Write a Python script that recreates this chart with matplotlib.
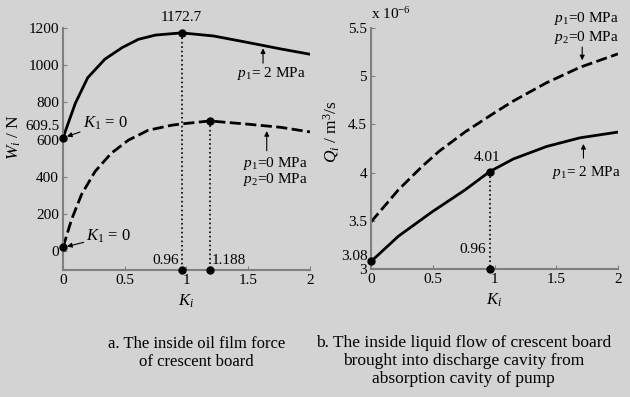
import numpy as np
import matplotlib
matplotlib.use('Agg')
import matplotlib.pyplot as plt

plt.rcParams['font.family'] = ['Liberation Serif', 'DejaVu Serif']
plt.rcParams['mathtext.fontset'] = 'custom'
plt.rcParams['mathtext.rm'] = 'Liberation Serif'
plt.rcParams['mathtext.it'] = 'Liberation Serif:italic'

# panel a: oil film force W_i (N) vs K_i
k_a_p2 = [0, 0.1, 0.2, 0.34, 0.48, 0.61, 0.75, 0.96, 1.22, 1.49, 1.76, 2.0]
w_p2 = [609.5, 795, 932, 1032, 1094, 1138, 1161, 1172.7, 1156, 1122, 1087, 1058]
k_a_p0 = [0, 0.07, 0.15, 0.26, 0.39, 0.53, 0.69, 0.88, 0.96, 1.188, 1.49, 1.76, 2.0]
w_p0 = [21, 172, 305, 429, 526, 597, 650, 677, 684, 700, 683, 666, 641]

# panel b: liquid flow Q_i (x1e-6 m^3/s) vs K_i
k_b_p2 = [0, 0.22, 0.49, 0.76, 0.96, 1.15, 1.42, 1.69, 2.0]
q_p2 = [3.08, 3.34, 3.59, 3.82, 4.01, 4.14, 4.27, 4.36, 4.42]
k_b_p0 = [0, 0.22, 0.41, 0.55, 0.76, 1.0, 1.15, 1.42, 1.69, 2.0]
q_p0 = [3.49, 3.82, 4.06, 4.22, 4.42, 4.62, 4.74, 4.93, 5.09, 5.23]

bg = '#d3d3d3'
axcol = '#7f7f7f'
fs = 11

fig = plt.figure(figsize=(6.3, 3.97), dpi=100, facecolor=bg)
ax1 = fig.add_axes([0.1, 0.32, 0.392, 0.61])
ax2 = fig.add_axes([0.589, 0.322, 0.392, 0.608])

for ax in (ax1, ax2):
    ax.set_facecolor(bg)
    for s in ('top', 'right'):
        ax.spines[s].set_visible(False)
    for s in ('left', 'bottom'):
        ax.spines[s].set_color(axcol)
        ax.spines[s].set_linewidth(1.5)
    ax.tick_params(direction='in', length=3, color=axcol, labelsize=fs, pad=3)
    ax.set_xlim(0, 2)
    ax.set_xticks([0, 0.5, 1, 1.5, 2])
    ax.set_xticklabels(['0', '0.5', '1', '1.5', '2'])
    ax.set_xlabel('$K_i$', fontsize=12, labelpad=4)

# ---- panel a
ax1.set_ylim(-100, 1200)
ax1.set_yticks([0, 200, 400, 600, 800, 1000, 1200])
ax1.plot(k_a_p2, w_p2, color='black', lw=2)
ax1.plot(k_a_p0, w_p0, color='black', lw=2, dashes=(4, 1.6))
ax1.set_ylabel('$W_i$ / N', fontsize=12.5)
ax1.yaxis.set_label_coords(-0.16, 0.55)

ka_max1 = k_a_p2[w_p2.index(max(w_p2))]
ka_max2 = k_a_p0[w_p0.index(max(w_p0))]
ax1.plot([ka_max1, ka_max1], [max(w_p2), -100], ls=':', color='black', lw=1.2)
ax1.plot([ka_max2, ka_max2], [max(w_p0), -100], ls=':', color='black', lw=1.2)
ax1.plot([ka_max1, ka_max2, 0, 0], [max(w_p2), max(w_p0), w_p2[0], w_p0[0]],
         'o', color='black', ms=5, clip_on=False, zorder=5)
ax1.plot([ka_max1, ka_max2], [-100, -100], 'o', color='black', ms=5,
         clip_on=False, zorder=5)
ax1.text(ka_max1, 1220, '1172.7', ha='center', va='bottom', fontsize=fs)
ax1.text(ka_max1 - 0.02, -85, '0.96', ha='right', va='bottom', fontsize=fs)
ax1.text(ka_max2 + 0.02, -85, '1.188', ha='left', va='bottom', fontsize=fs)
ax1.text(-0.03, 672, '609.5', ha='right', va='center', fontsize=fs)

arw = dict(arrowstyle='-|>', color='black', lw=0.8, mutation_scale=7,
           shrinkA=0, shrinkB=3)
ax1.annotate('$K_1$ = 0', xy=(0, w_p2[0]), xytext=(0.16, 686), fontsize=12,
             va='center', ha='left', arrowprops=arw)
ax1.annotate('$K_1$ = 0', xy=(0, w_p0[0]), xytext=(0.19, 81), fontsize=12,
             va='center', ha='left', arrowprops=arw)
ax1.annotate('', xy=(1.62, 1112), xytext=(1.62, 1010), arrowprops=arw)
ax1.text(1.69, 954, '$p_1$= 2 MPa', ha='center', va='center', fontsize=fs)
ax1.annotate('', xy=(1.65, 668), xytext=(1.65, 540), arrowprops=arw)
ax1.text(1.72, 474, '$p_1$=0 MPa', ha='center', va='center', fontsize=fs)
ax1.text(1.72, 384, '$p_2$=0 MPa', ha='center', va='center', fontsize=fs)

# ---- panel b
ax2.set_ylim(3, 5.5)
ax2.set_yticks([3, 3.5, 4, 4.5, 5, 5.5])
ax2.set_yticklabels(['3', '3.5', '4', '4.5', '5', '5.5'])
ax2.plot(k_b_p2, q_p2, color='black', lw=2)
ax2.plot(k_b_p0, q_p0, color='black', lw=2, dashes=(4, 1.6))
ax2.set_ylabel('$Q_i$ / m$^3$/s', fontsize=12.5)
ax2.yaxis.set_label_coords(-0.12, 0.57)
ax2.text(0.0, 5.56, 'x 10$^{-6}$', ha='left', va='bottom', fontsize=fs)

kb = k_b_p2[q_p2.index(4.01)]
ax2.plot([kb, kb], [4.01, 3], ls=':', color='black', lw=1.2)
ax2.plot([kb, 0], [4.01, q_p2[0]], 'o', color='black', ms=5, clip_on=False, zorder=5)
ax2.plot([kb], [3], 'o', color='black', ms=5, clip_on=False, zorder=5)
ax2.text(kb - 0.02, 4.16, '4.01', ha='center', va='center', fontsize=fs)
ax2.text(kb - 0.03, 3.2, '0.96', ha='right', va='center', fontsize=fs)
ax2.text(-0.03, 3.13, '3.08', ha='right', va='center', fontsize=fs)

ax2.annotate('', xy=(1.71, 5.12), xytext=(1.71, 5.3), arrowprops=arw)
ax2.text(1.74, 5.6, '$p_1$=0 MPa', ha='center', va='center', fontsize=fs)
ax2.text(1.74, 5.4, '$p_2$=0 MPa', ha='center', va='center', fontsize=fs)
ax2.annotate('', xy=(1.72, 4.34), xytext=(1.72, 4.15), arrowprops=arw)
ax2.text(1.74, 4.0, '$p_1$= 2 MPa', ha='center', va='center', fontsize=fs)

# captions
fig.text(0.312, 1 - 353 / 397, 'a. The inside oil film force\nof crescent board',
         ha='center', va='center', fontsize=12, linespacing=1.25)
fig.text(0.736, 1 - 361 / 397,
         'b. The inside liquid flow of crescent board\nbrought into discharge cavity from\nabsorption cavity of pump',
         ha='center', va='center', fontsize=12.5, linespacing=1.2)

fig.savefig('out.png', dpi=100, facecolor=bg)
